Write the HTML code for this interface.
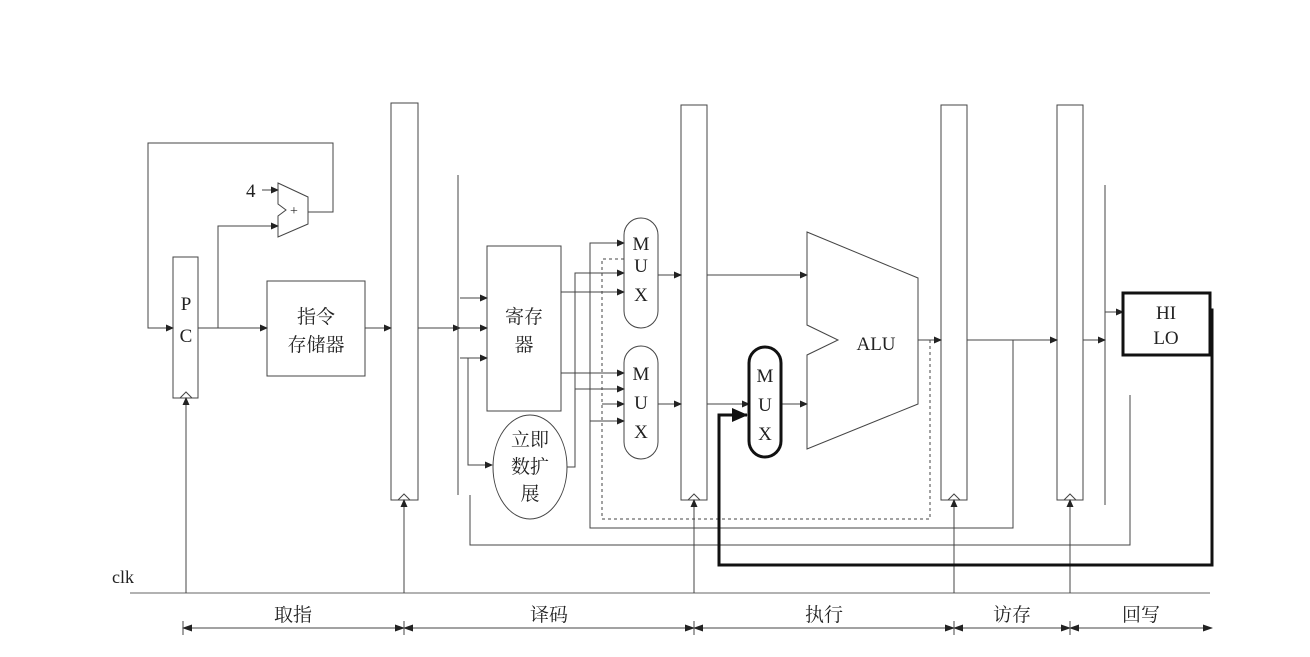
<!DOCTYPE html>
<html><head><meta charset="utf-8"><style>
body{margin:0;background:#fff}
svg{display:block}
text{font-family:"Liberation Serif","Noto Serif CJK SC",serif;fill:#222}
</style></head><body>
<svg width="1310" height="657" viewBox="0 0 1310 657">
<defs>
<marker id="a" markerWidth="8" markerHeight="8" refX="7" refY="4" orient="auto" markerUnits="userSpaceOnUse"><path d="M0,0.5 L8,4 L0,7.5z" fill="#222"/></marker>
<marker id="ab" markerWidth="16" markerHeight="14" refX="15" refY="7" orient="auto" markerUnits="userSpaceOnUse"><path d="M0,0 L16,7 L0,14z" fill="#111"/></marker>
<marker id="as" markerWidth="10" markerHeight="8" refX="9" refY="4" orient="auto-start-reverse" markerUnits="userSpaceOnUse"><path d="M0,0.5 L10,4 L0,7.5z" fill="#222"/></marker>
</defs>
<g stroke="#444" stroke-width="1" fill="none">
<polyline points="308,212 333,212 333,143 148,143 148,328 173,328" marker-end="url(#a)"/>
<line x1="262" y1="190" x2="278" y2="190" marker-end="url(#a)"/>
<polyline points="218,328 218,226 278,226" marker-end="url(#a)"/>
<polygon points="278,183 308,197 308,224 278,237 278,216 286,210 278,204"/>
<rect x="173" y="257" width="25" height="141"/>
<line x1="198" y1="328" x2="267" y2="328" marker-end="url(#a)"/>
<rect x="267" y="281" width="98" height="95"/>
<line x1="365" y1="328" x2="391" y2="328" marker-end="url(#a)"/>
<rect x="391" y="103" width="27" height="397"/>
<rect x="681" y="105" width="26" height="395"/>
<rect x="941" y="105" width="26" height="395"/>
<rect x="1057" y="105" width="26" height="395"/>
<polyline points="180,398 186,392 192,398"/>
<polyline points="398,500 404,494 410,500"/>
<polyline points="688,500 694,494 700,500"/>
<polyline points="948,500 954,494 960,500"/>
<polyline points="1064,500 1070,494 1076,500"/>
<line x1="418" y1="328" x2="460" y2="328" marker-end="url(#a)"/>
<line x1="458" y1="175" x2="458" y2="495"/>
<line x1="460" y1="298" x2="487" y2="298" marker-end="url(#a)"/>
<line x1="460" y1="328" x2="487" y2="328" marker-end="url(#a)"/>
<line x1="460" y1="358" x2="487" y2="358" marker-end="url(#a)"/>
<polyline points="468,358 468,465 492,465" marker-end="url(#a)"/>
<rect x="487" y="246" width="74" height="165"/>
<ellipse cx="530" cy="467" rx="37" ry="52"/>
<line x1="561" y1="292" x2="624" y2="292" marker-end="url(#a)"/>
<line x1="561" y1="373" x2="624" y2="373" marker-end="url(#a)"/>
<polyline points="567,467 575,467 575,273 624,273" marker-end="url(#a)"/>
<line x1="575" y1="389" x2="624" y2="389" marker-end="url(#a)"/>
<polyline points="1013,340 1013,528 590,528 590,243 624,243" marker-end="url(#a)"/>
<line x1="590" y1="421" x2="624" y2="421" marker-end="url(#a)"/>
<polyline stroke-dasharray="3,3" points="918,340 930,340 930,519 602,519 602,259 624,259"/>
<line x1="602" y1="404" x2="624" y2="404" marker-end="url(#a)"/>
<rect x="624" y="218" width="34" height="110" rx="17"/>
<rect x="624" y="346" width="34" height="113" rx="17"/>
<line x1="658" y1="275" x2="681" y2="275" marker-end="url(#a)"/>
<line x1="658" y1="404" x2="681" y2="404" marker-end="url(#a)"/>
<line x1="707" y1="275" x2="807" y2="275" marker-end="url(#a)"/>
<line x1="707" y1="404" x2="749" y2="404" marker-end="url(#a)"/>
<line x1="781" y1="404" x2="807" y2="404" marker-end="url(#a)"/>
<polygon points="807,232 918,278 918,404 807,449 807,355 838,340 807,325"/>
<line x1="918" y1="340" x2="941" y2="340" marker-end="url(#a)"/>
<line x1="967" y1="340" x2="1057" y2="340" marker-end="url(#a)"/>
<polyline points="1130,395 1130,545 470,545 470,495"/>
<line x1="1105" y1="185" x2="1105" y2="505"/>
<line x1="1083" y1="340" x2="1105" y2="340" marker-end="url(#a)"/>
<line x1="1105" y1="312" x2="1123" y2="312" marker-end="url(#a)"/>
<line x1="130" y1="593" x2="1210" y2="593" stroke="#666"/>
<line x1="186" y1="593" x2="186" y2="398" marker-end="url(#a)"/>
<line x1="404" y1="593" x2="404" y2="500" marker-end="url(#a)"/>
<line x1="694" y1="593" x2="694" y2="500" marker-end="url(#a)"/>
<line x1="954" y1="593" x2="954" y2="500" marker-end="url(#a)"/>
<line x1="1070" y1="593" x2="1070" y2="500" marker-end="url(#a)"/>
<line x1="183" y1="628" x2="404" y2="628" marker-start="url(#as)" marker-end="url(#as)"/>
<line x1="404" y1="628" x2="694" y2="628" marker-start="url(#as)" marker-end="url(#as)"/>
<line x1="694" y1="628" x2="954" y2="628" marker-start="url(#as)" marker-end="url(#as)"/>
<line x1="954" y1="628" x2="1070" y2="628" marker-start="url(#as)" marker-end="url(#as)"/>
<line x1="1070" y1="628" x2="1212" y2="628" marker-start="url(#as)" marker-end="url(#as)"/>
<line x1="183" y1="621" x2="183" y2="635"/>
<line x1="404" y1="621" x2="404" y2="635"/>
<line x1="694" y1="621" x2="694" y2="635"/>
<line x1="954" y1="621" x2="954" y2="635"/>
<line x1="1070" y1="621" x2="1070" y2="635"/>
</g>
<g stroke="#111" stroke-width="3" fill="none">
<rect x="749" y="347" width="32" height="110" rx="16"/>
<rect x="1123" y="293" width="87" height="62"/>
<polyline points="1210,310 1212,310 1212,565 719,565 719,415 747,415" marker-end="url(#ab)"/>
</g>
<g font-size="19">
<text x="246" y="197">4</text>
<text x="290" y="215" font-size="14">+</text>
<text x="186" y="310" text-anchor="middle">P</text>
<text x="186" y="342" text-anchor="middle">C</text>
<text x="316" y="323" text-anchor="middle">指令</text>
<text x="316" y="351" text-anchor="middle">存储器</text>
<text x="524" y="323" text-anchor="middle">寄存</text>
<text x="524" y="351" text-anchor="middle">器</text>
<text x="530" y="446" text-anchor="middle">立即</text>
<text x="530" y="473" text-anchor="middle">数扩</text>
<text x="530" y="500" text-anchor="middle">展</text>
<text x="641" y="250" text-anchor="middle">M</text><text x="641" y="272" text-anchor="middle">U</text><text x="641" y="301" text-anchor="middle">X</text>
<text x="641" y="380" text-anchor="middle">M</text><text x="641" y="409" text-anchor="middle">U</text><text x="641" y="438" text-anchor="middle">X</text>
<text x="765" y="382" text-anchor="middle">M</text><text x="765" y="411" text-anchor="middle">U</text><text x="765" y="440" text-anchor="middle">X</text>
<text x="876" y="350" text-anchor="middle">ALU</text>
<text x="1166" y="319" text-anchor="middle">HI</text>
<text x="1166" y="344" text-anchor="middle">LO</text>
<text x="112" y="583" font-size="18">clk</text>
<text x="293" y="621" text-anchor="middle">取指</text>
<text x="549" y="621" text-anchor="middle">译码</text>
<text x="824" y="621" text-anchor="middle">执行</text>
<text x="1012" y="621" text-anchor="middle">访存</text>
<text x="1141" y="621" text-anchor="middle">回写</text>
</g>
</svg>
</body></html>
